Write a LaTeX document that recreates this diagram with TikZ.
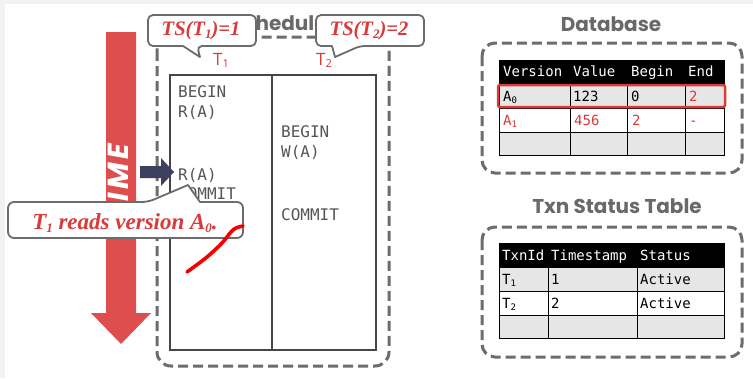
\documentclass[tikz,border=0pt]{standalone}
\usepackage{fontspec}
\setmainfont{Liberation Serif}
\newfontfamily\headfont{Poppins}
\newfontfamily\timefont{Poppins}[LetterSpace=12]
\newfontfamily\codefont{DejaVu Sans Mono}
\newfontfamily\labelfont{Open Sans}

% small lowered digits used as subscripts
\newcommand\msub[1]{\raisebox{-0.3ex}{\fontsize{9}{9}\selectfont#1}}
\newcommand\ssub[1]{\raisebox{-0.35ex}{\fontsize{13}{13}\selectfont#1}}
\newcommand\lsub[1]{\raisebox{-0.3ex}{\fontsize{11}{11}\selectfont#1}}

\definecolor{arrowred}{RGB}{222,78,78}
\definecolor{txtred}{RGB}{218,58,58}
\definecolor{headgray}{RGB}{105,105,105}
\definecolor{boxgray}{RGB}{108,108,108}
\definecolor{codegray}{RGB}{85,85,85}
\definecolor{cellgray}{RGB}{230,230,230}
\definecolor{navy}{RGB}{62,64,96}
\definecolor{handred}{RGB}{245,0,0}
\definecolor{pagegray}{RGB}{242,242,242}
\definecolor{tablegray}{RGB}{70,70,70}

\begin{document}
\begin{tikzpicture}[x=1pt,y=-1pt,
  dashbox/.style={draw=boxgray, line width=3pt, dash pattern=on 10pt off 5pt, rounded corners=13pt},
  heading/.style={font=\headfont\bfseries\fontsize{20}{20}\selectfont, text=headgray, anchor=base, inner sep=0pt},
  codetext/.style={font=\codefont\fontsize{16}{16}\selectfont, text=codegray, anchor=base west, inner sep=0pt},
  cell/.style={font=\codefont\fontsize{14}{14}\selectfont, anchor=base west, inner sep=0pt},
  headcell/.style={cell, text=white},
  redcell/.style={cell, text=txtred},
  bubble/.style={draw=boxgray, line width=1.8pt, fill=white, line join=round},
  bubbletext/.style={font=\bfseries\itshape\fontsize{20.5}{20.5}\selectfont, text=txtred, anchor=base, inner sep=0pt},
  tlabel/.style={font=\labelfont\fontsize{17}{17}\selectfont, text=txtred, anchor=base, inner sep=0pt},
  cellrule/.style={draw=black, line width=1pt}]

% page
\fill[pagegray] (0,0) rectangle (753,378);
\fill[white] (5,4) rectangle (753,378);
\useasboundingbox (0,0) rectangle (753,378);

% time arrow
\fill[arrowred] (106,32) -- (136,32) -- (136,313) -- (151,313) -- (121,344) -- (91,313) -- (106,313) -- cycle;
\node[font=\timefont\bfseries\itshape\fontsize{29}{29}\selectfont, text=white, rotate=90, anchor=base, inner sep=0pt] (timeword) at (128,183) {TIME};

% scheduler
\node[heading, anchor=base west] (schedtitle) at (231,30) {Scheduler};
\draw[dashbox, rounded corners=14pt] (157,37) rectangle (389,366);
\draw[draw=tablegray, line width=1.2pt] (170,75) rectangle (376,350);
\draw[draw=tablegray, line width=1.2pt] (272,75) -- (272,350);
\node[tlabel] (labA) at (221,65) {T\lsub{1}};
\node[tlabel] (labB) at (324,65) {T\lsub{2}};

\node[codetext] (a1) at (178,97) {BEGIN};
\node[codetext] (a2) at (178,117) {R(A)};
\node[codetext] (a3) at (178,180) {R(A)};
\node[codetext] (a4) at (178,199) {COMMIT};
\node[codetext] (b1) at (281,137) {BEGIN};
\node[codetext] (b2) at (281,157) {W(A)};
\node[codetext] (b3) at (281,220) {COMMIT};

% current-step marker
\fill[navy] (140,166) -- (161,166) -- (161,158) -- (174,172) -- (161,186) -- (161,178) -- (140,178) -- cycle;

% database
\node[heading] (dbtitle) at (611,31) {Database};
\draw[dashbox] (482,43) rectangle (742,173);
\fill[black] (499,60) rectangle (724,83);
\fill[cellgray] (499,83) rectangle (724,108);
\fill[cellgray] (499,132) rectangle (724,155);
\draw[cellrule] (499,60) rectangle (724,155);
\foreach \yy in {83,108,132} \draw[cellrule] (499,\yy) -- (724,\yy);
\foreach \xx in {570,627,685} \draw[cellrule] (\xx,83) -- (\xx,155);
\node[headcell] (dh1) at (503,76) {Version};
\node[headcell] (dh2) at (573,76) {Value};
\node[headcell] (dh3) at (631,76) {Begin};
\node[headcell] (dh4) at (688,76) {End};
\node[cell] (dr1a) at (503,101) {A\msub{0}};
\node[cell] (dr1b) at (573,101) {123};
\node[cell] (dr1c) at (631,101) {0};
\node[redcell] (dr1d) at (689,101) {2};
\node[redcell] (dr2a) at (503,125) {A\msub{1}};
\node[redcell] (dr2b) at (574,125) {456};
\node[redcell] (dr2c) at (632,125) {2};
\node[redcell] (dr2d) at (689,125) {-};
\draw[draw=txtred, line width=2.5pt, rounded corners=2pt] (498,85) rectangle (725,107);

% transaction status table
\node[heading] (txtitle) at (617,213) {Txn Status Table};
\draw[dashbox] (482,227) rectangle (742,357);
\fill[black] (499,243) rectangle (724,267);
\fill[cellgray] (499,267) rectangle (724,291);
\fill[cellgray] (499,315) rectangle (724,338);
\draw[cellrule] (499,243) rectangle (724,338);
\foreach \yy in {267,291,315} \draw[cellrule] (499,\yy) -- (724,\yy);
\foreach \xx in {548,637} \draw[cellrule] (\xx,267) -- (\xx,338);
\node[headcell] (th1) at (502,260) {TxnId};
\node[headcell] (th2) at (551,260) {Timestamp};
\node[headcell] (th3) at (640,260) {Status};
\node[cell] (tr1a) at (502,284) {T\msub{1}};
\node[cell] (tr1b) at (551,284) {1};
\node[cell] (tr1c) at (640,284) {Active};
\node[cell] (tr2a) at (502,308) {T\msub{2}};
\node[cell] (tr2b) at (551,308) {2};
\node[cell] (tr2c) at (640,308) {Active};

% timestamp bubbles
\draw[bubble] (148,30) [rounded corners=5pt] -- (148,15) -- (256,15) -- (256,46) -- (197,46) [sharp corners] -- (200,57) -- (183,46) [rounded corners=5pt] -- (148,46) -- cycle;
\node[bubbletext] (ts1) at (201,35) {TS(T\ssub{1})=1};
\draw[bubble] (316,30) [rounded corners=5pt] -- (316,15) -- (424,15) -- (424,46) -- (360,46) [sharp corners] -- (335,57) -- (332,46) [rounded corners=5pt] -- (316,46) -- cycle;
\node[bubbletext] (ts2) at (369,35) {TS(T\ssub{2})=2};

% explanation bubble
\draw[bubble] (8,220) [rounded corners=6pt] -- (8,202) -- (148,202) [sharp corners] -- (188,185) -- (200,202) [rounded corners=6pt] -- (243,202) -- (243,238) -- (8,238) -- cycle;
\node[bubbletext, font=\bfseries\itshape\fontsize{23}{23}\selectfont] (note) at (125,229) {T\ssub{1} reads version A\ssub{0}.};

% hand-drawn stroke
\draw[handred, line width=3.6pt, line cap=round, line join=round] plot[smooth, tension=0.6] coordinates {(187,272) (207,257) (222,243) (231,232) (236,228) (243,226)};
\end{tikzpicture}
\end{document}
